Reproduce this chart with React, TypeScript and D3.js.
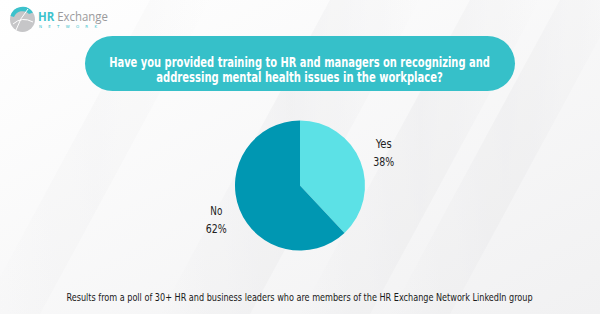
import React, { useLayoutEffect, useRef, useState } from "react";
import * as d3 from "d3";

const categories = ["Yes", "No"];
const values = [38, 62];
const colors = ["#5ce1e6", "#0097b2"];
const titleLines = [
  "Have you provided training to HR and managers on recognizing and",
  "addressing mental health issues in the workplace?",
];
const footnote =
  "Results from a poll of 30+ HR and business leaders who are members of the HR Exchange Network LinkedIn group";

const W = 600;
const H = 314;
const FONT = "'Liberation Sans Narrow', 'DejaVu Sans Condensed', 'Roboto', sans-serif";

type FitProps = {
  x: number;
  y: number;
  width: number;
  fontSize: number;
  fontWeight?: number;
  fill: string;
  children: string;
};

function FitText({ x, y, width, fontSize, fontWeight, fill, children }: FitProps) {
  const ref = useRef<SVGTextElement>(null);
  const [sx, setSx] = useState(1);
  useLayoutEffect(() => {
    if (ref.current) {
      const w = ref.current.getComputedTextLength();
      if (w > 0) setSx(width / w);
    }
  }, [width, children, fontSize]);
  return (
    <text
      ref={ref}
      transform={`translate(${x},${y}) scale(${sx},1)`}
      textAnchor="middle"
      fontFamily={FONT}
      fontWeight={fontWeight || 400}
      fontSize={fontSize}
      fill={fill}
    >
      {children}
    </text>
  );
}

export default function App() {
  const cx = 300;
  const cy = 185.5;
  const R = 65;
  const pie = d3.pie<number>().sort(null).value((d) => d);
  const arcs = pie(values);
  const arc = d3.arc<d3.PieArcDatum<number>>().innerRadius(0).outerRadius(R);
  const labelArc = d3.arc<d3.PieArcDatum<number>>().innerRadius(90).outerRadius(90);
  const total = d3.sum(values);
  const titleWidths = [381, 287];
  const labelWidths = [16, 12];
  const pctWidth = 21;

  return (
    <svg
      width={W}
      height={H}
      style={{ position: "absolute", left: 0, top: 0, display: "block" }}
    >
      <defs>
        <linearGradient id="bg" x1="0" y1="0" x2="1" y2="1">
          <stop offset="0" stopColor="#ffffff" />
          <stop offset="1" stopColor="#f1f1f2" />
        </linearGradient>
        <linearGradient id="stripe" x1="0" y1="0" x2="1" y2="0">
          <stop offset="0" stopColor="#e6e6e8" stopOpacity="0" />
          <stop offset="0.5" stopColor="#e6e6e8" stopOpacity="0.5" />
          <stop offset="1" stopColor="#e6e6e8" stopOpacity="0" />
        </linearGradient>
      </defs>
      <rect x={0} y={0} width={W} height={H} fill="url(#bg)" />
      <g opacity={0.7}>
        <polygon points="330,0 420,0 250,314 160,314" fill="url(#stripe)" />
        <polygon points="470,0 540,0 370,314 300,314" fill="url(#stripe)" />
        <polygon points="560,0 620,0 450,314 390,314" fill="url(#stripe)" />
        <polygon points="150,0 210,0 40,314 -20,314" fill="url(#stripe)" opacity={0.5} />
      </g>

      {/* logo */}
      <g>
        <circle cx={22.5} cy={19.5} r={12.5} fill="#c6c6c8" />
        <path d="M10.5,16 A12.5,12.5 0 0 1 33,12.5 L29,14 A9,9 0 0 0 14,17 Z" fill="#3cc2cc" />
        <path d="M13,24 Q22,16 33,22" stroke="#ffffff" strokeWidth={1} fill="none" />
        <path d="M16,30 Q20,18 28,9" stroke="#ffffff" strokeWidth={1} fill="none" />
        <text
          x={38}
          y={21}
          fontFamily="'Open Sans', 'DejaVu Sans', sans-serif"
          fontSize={12}
          textLength={70}
          lengthAdjust="spacingAndGlyphs"
        >
          <tspan fill="#3cc2cc" fontWeight={700}>HR</tspan>
          <tspan fill="#9a9a9c"> Exchange</tspan>
        </text>
        <text
          x={39}
          y={28}
          fontFamily="'DejaVu Sans', sans-serif"
          fontSize={4}
          fill="#3cc2cc"
          textLength={58}
          lengthAdjust="spacing"
        >
          NETWORK
        </text>
      </g>

      {/* title pill */}
      <rect x={85} y={36} width={430} height={55} rx={27.5} fill="#36c0c9" />
      {titleLines.map((t, i) => (
        <FitText
          key={i}
          x={299.5}
          y={67 + i * 15}
          width={titleWidths[i]}
          fontSize={14}
          fontWeight={700}
          fill="#ffffff"
        >
          {t}
        </FitText>
      ))}

      {/* pie */}
      <g transform={`translate(${cx},${cy})`}>
        {arcs.map((a, i) => (
          <path key={categories[i]} d={arc(a) || ""} fill={colors[i]} />
        ))}
        {arcs.map((a, i) => {
          const [lx, ly] = labelArc.centroid(a);
          const pct = Math.round((values[i] / total) * 100);
          return (
            <g key={"l" + categories[i]}>
              <FitText x={lx} y={ly - 4} width={labelWidths[i]} fontSize={12} fill="#222222">
                {categories[i]}
              </FitText>
              <FitText x={lx} y={ly + 14} width={pctWidth} fontSize={12} fill="#222222">
                {`${pct}%`}
              </FitText>
            </g>
          );
        })}
      </g>

      {/* footnote */}
      <FitText x={299.5} y={301} width={467} fontSize={11} fill="#1a1a1a">
        {footnote}
      </FitText>
    </svg>
  );
}
